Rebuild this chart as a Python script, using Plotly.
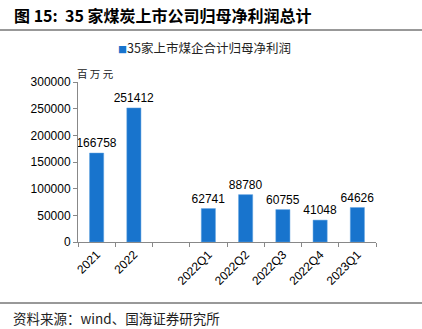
import plotly.graph_objects as go

categories = ["2021", "2022", " ", "2022Q1", "2022Q2", "2022Q3", "2022Q4", "2023Q1"]
values = [166758, 251412, None, 62741, 88780, 60755, 41048, 64626]
labels = ["166758", "251412", "", "62741", "88780", "60755", "41048", "64626"]
series_name = "35家上市煤企合计归母净利润"
title_text = "图 15:  35 家煤炭上市公司归母净利润总计"
unit_text = "百 万 元"
source_text = "资料来源：wind、国海证券研究所"
y_ticks = [0, 50000, 100000, 150000, 200000, 250000, 300000]
bar_color = "#1874CD"

fig = go.Figure()
fig.add_trace(go.Bar(
    x=categories, y=values, name=series_name, showlegend=False,
    marker=dict(color=bar_color, line=dict(color="#5fa0e0", width=0.5)),
    width=0.38,
    text=labels, textposition="outside", cliponaxis=False, constraintext="none",
    textfont=dict(family="Liberation Sans, Arial", size=12, color="#000"),
))

fig.update_layout(
    width=422, height=329,
    margin=dict(l=78, r=46, t=82, b=87),
    paper_bgcolor="white", plot_bgcolor="white",
    font=dict(family="Liberation Sans, Arial", color="#000"),
)
fig.update_xaxes(
    type="category", categoryorder="array", categoryarray=categories,
    tickson="boundaries", ticks="outside", ticklen=4, tickcolor="#888",
    showline=True, linecolor="#888", linewidth=1, tickangle=-45,
    tickfont=dict(size=12, family="Liberation Sans, Arial", color="#000"),
    showgrid=False,
)
fig.update_yaxes(
    range=[0, 300000], tickvals=y_ticks, ticktext=[str(v) for v in y_ticks],
    ticks="outside", ticklen=4, tickcolor="#888",
    showline=True, linecolor="#888", linewidth=1, showgrid=False, zeroline=False,
    tickfont=dict(size=12, family="Liberation Sans, Arial", color="#000"),
)

W, H = 298, 160
fig.add_annotation(text="<b>" + title_text + "</b>", xref="paper", yref="paper",
                   x=-66/W, y=1 + (82-15)/H, xanchor="left", yanchor="middle",
                   showarrow=False, font=dict(family="Noto Sans CJK SC", size=16, color="#000"))
fig.add_annotation(text="<span style='color:%s;font-size:9px'>■</span>%s" % (bar_color, series_name),
                   xref="paper", yref="paper",
                   x=(116-78)/W, y=1 + (82-47)/H, xanchor="left", yanchor="middle",
                   showarrow=False, font=dict(family="Noto Sans CJK SC", size=12.5, color="#222"))
fig.add_annotation(text=unit_text, xref="paper", yref="paper",
                   x=-3/W, y=1 + (82-73)/H, xanchor="left", yanchor="middle",
                   showarrow=False, font=dict(family="Noto Sans CJK SC", size=10.5, color="#222"))
fig.add_annotation(text=source_text, xref="paper", yref="paper",
                   x=-67/W, y=-(318-242)/H, xanchor="left", yanchor="middle",
                   showarrow=False, font=dict(family="Noto Sans CJK SC", size=13.5, color="#222"))
fig.add_shape(type="line", xref="paper", yref="paper", x0=-78/W, x1=1+46/W,
              y0=1 + (82-30)/H, y1=1 + (82-30)/H, line=dict(color="#333", width=1))
fig.add_shape(type="line", xref="paper", yref="paper", x0=-78/W, x1=1+46/W,
              y0=-(303-242)/H, y1=-(303-242)/H, line=dict(color="#333", width=1))

fig.write_html("out.html")
